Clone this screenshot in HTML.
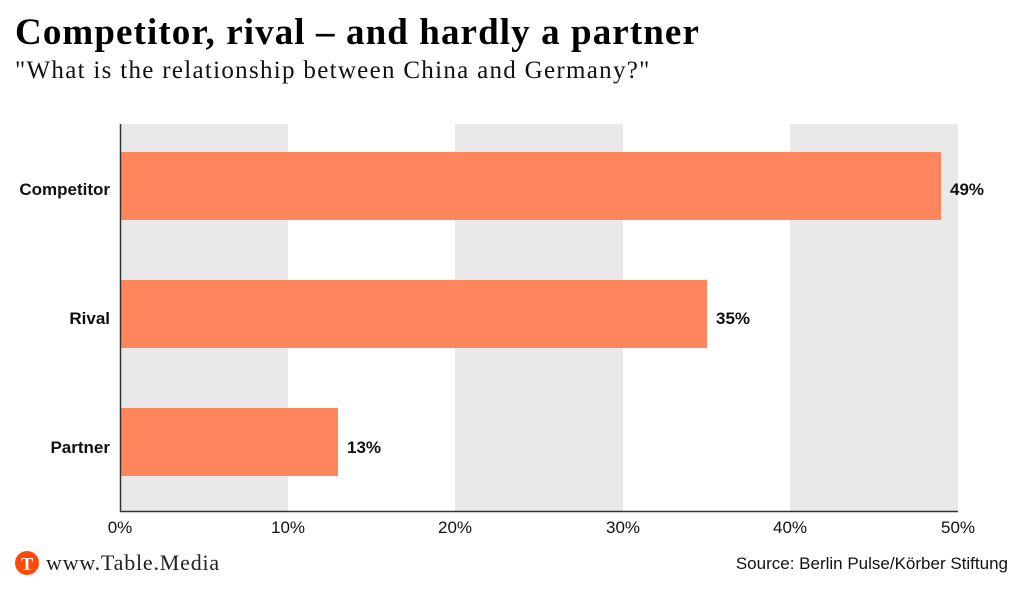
<!DOCTYPE html>
<html><head><style>
body{margin:0;width:1024px;height:590px;background:#fff;position:relative;overflow:hidden;font-family:"Liberation Sans",sans-serif}
.a{position:absolute;white-space:nowrap}
</style></head><body>
<div class="a" style="left:15px;top:11px;font:bold 37px 'Liberation Serif',serif;color:#000;letter-spacing:1.1px">Competitor, rival – and hardly a partner</div>
<div class="a" style="left:15px;top:57px;font:25px 'Liberation Serif',serif;color:#111;letter-spacing:1.3px">"What is the relationship between China and Germany?"</div>
<svg class="a" style="left:0;top:0" width="1024" height="590">
<rect x="120" y="124" width="168" height="388" fill="#e9e9e9"/>
<rect x="455" y="124" width="168" height="388" fill="#e9e9e9"/>
<rect x="790" y="124" width="168" height="388" fill="#e9e9e9"/>
<rect x="120" y="152" width="821" height="68" fill="#ff865c"/>
<rect x="120" y="280" width="587" height="68" fill="#ff865c"/>
<rect x="120" y="408" width="218" height="68" fill="#ff865c"/>
<line x1="120.5" y1="124" x2="120.5" y2="512" stroke="#333" stroke-width="1.5"/>
<line x1="120" y1="511.5" x2="958" y2="511.5" stroke="#333" stroke-width="1.5"/>
<g font-family="Liberation Sans" font-size="17" font-weight="bold" fill="#111">
<text x="110" y="195" text-anchor="end">Competitor</text>
<text x="110" y="324" text-anchor="end">Rival</text>
<text x="110" y="453" text-anchor="end">Partner</text>
<text x="950" y="195">49%</text>
<text x="716" y="324">35%</text>
<text x="347" y="453">13%</text>
</g>
<g font-family="Liberation Sans" font-size="17" fill="#111" text-anchor="middle">
<text x="120" y="533">0%</text><text x="288" y="533">10%</text><text x="455" y="533">20%</text>
<text x="623" y="533">30%</text><text x="790" y="533">40%</text><text x="958" y="533">50%</text>
</g>
<circle cx="27" cy="563" r="12" fill="#ff4a0a"/>
<text x="27" y="570" text-anchor="middle" font-family="Liberation Serif" font-weight="bold" font-size="18" fill="#fff">T</text>
<text x="46" y="570" font-family="Liberation Serif" font-size="22" fill="#222" letter-spacing="0.8">www.Table.Media</text>
<text x="1008" y="569" text-anchor="end" font-family="Liberation Sans" font-size="17" fill="#111">Source: Berlin Pulse/Körber Stiftung</text>
</svg>
</body></html>
